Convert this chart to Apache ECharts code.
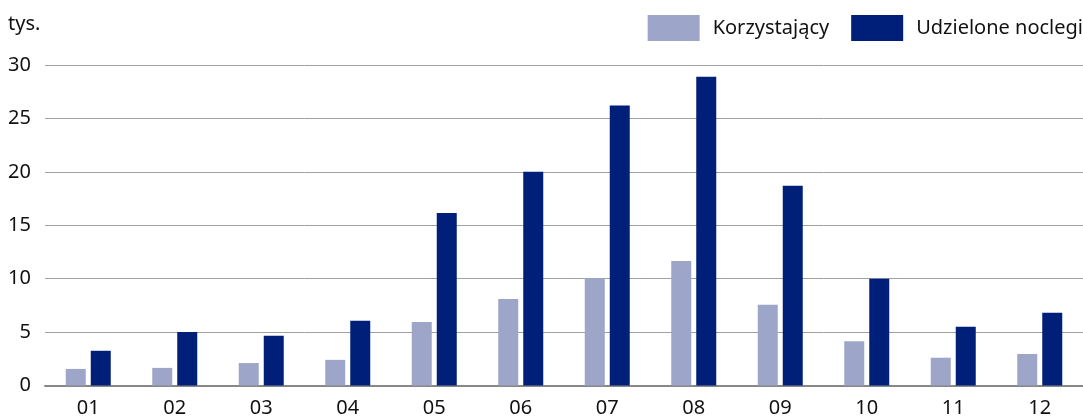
<!DOCTYPE html>
<html>
<head>
<meta charset="utf-8">
<script src="https://cdn.jsdelivr.net/npm/echarts@6/dist/echarts.min.js"></script>
<style>
  html, body { margin: 0; padding: 0; background: #fff; }
  #chart { width: 1083px; height: 419px; }
</style>
</head>
<body>
<div id="chart"></div>
<script>
const months = ['01', '02', '03', '04', '05', '06', '07', '08', '09', '10', '11', '12']
const korzystajacy = [1.55, 1.65, 2.1, 2.4, 5.95, 8.1, 10.05, 11.65, 7.55, 4.15, 2.6, 2.95]
const noclegi = [3.25, 5.0, 4.65, 6.05, 16.15, 20.0, 26.2, 28.9, 18.7, 10.0, 5.5, 6.8]

const font = '"Noto Sans", sans-serif'

var myChart = echarts.init(document.getElementById('chart'), null, { renderer: 'canvas' })

myChart.setOption({
  animation: false,
  textStyle: { fontFamily: font },
  grid: { left: 45, right: 0, top: 65, bottom: 33.5 },
  legend: {
    top: 15,
    right: 0,
    padding: 0,
    itemWidth: 52,
    itemHeight: 26,
    itemGap: 22,
    icon: 'rect',
    textStyle: { fontSize: 20, color: '#111', fontFamily: font, padding: [0, 0, 0, 8] },
    data: ['Korzystający', 'Udzielone noclegi']
  },
  graphic: [{
    type: 'text',
    left: 8,
    top: 14,
    style: { text: 'tys.', fontSize: 20, fill: '#111', fontFamily: font }
  }],
  xAxis: {
    type: 'category',
    data: months,
    axisLine: { lineStyle: { color: '#888', width: 2 } },
    axisTick: { show: false },
    axisLabel: { fontSize: 20, color: '#111', margin: 13, fontFamily: font }
  },
  yAxis: {
    type: 'value',
    min: 0,
    max: 30,
    interval: 5,
    axisLine: { show: false },
    axisTick: { show: false },
    axisLabel: { fontSize: 20, color: '#111', margin: 14, fontFamily: font },
    splitLine: { lineStyle: { color: '#a0a0a0', width: 1 } }
  },
  series: [
    {
      name: 'Korzystający',
      type: 'bar',
      data: korzystajacy,
      barWidth: 20,
      barGap: '25%',
      itemStyle: { color: '#9da6c8' }
    },
    {
      name: 'Udzielone noclegi',
      type: 'bar',
      data: noclegi,
      barWidth: 20,
      barGap: '25%',
      itemStyle: { color: '#001f78' }
    }
  ]
})
</script>
</body>
</html>
